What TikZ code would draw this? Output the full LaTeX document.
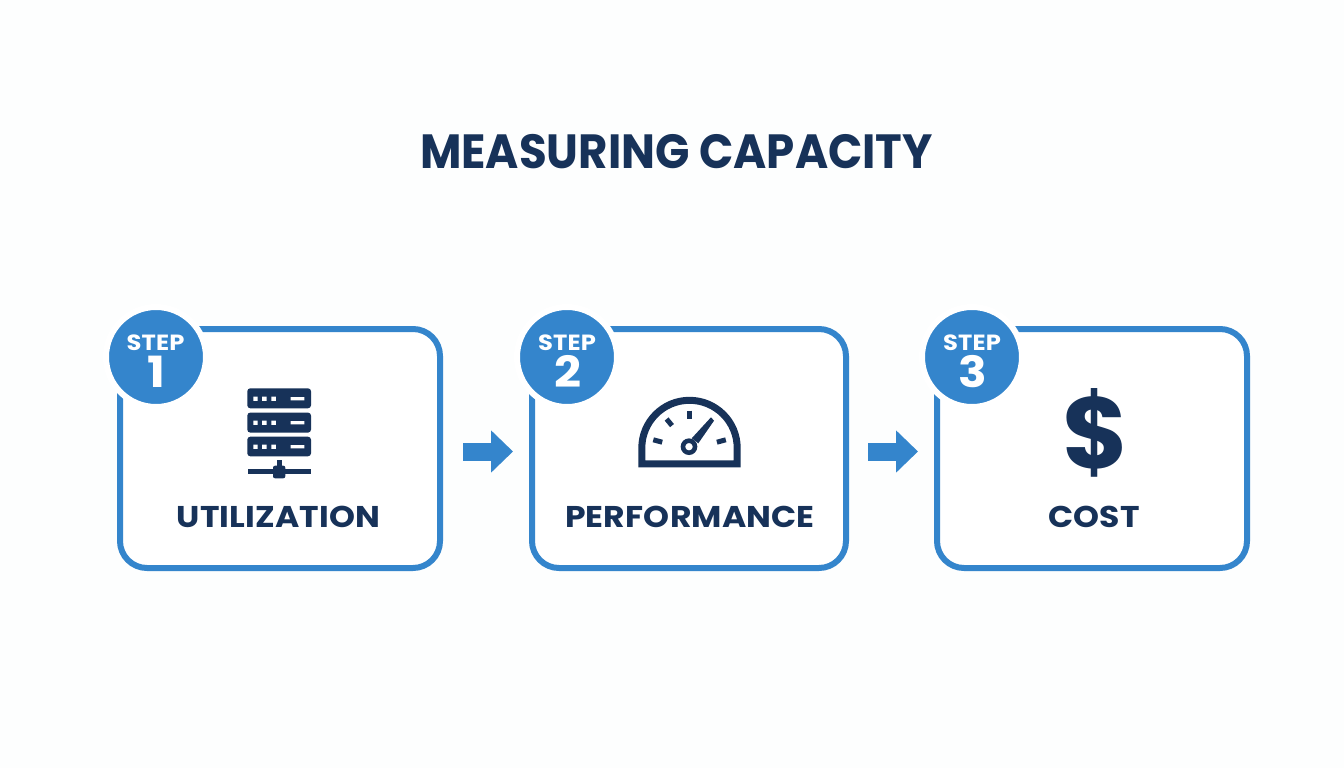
\documentclass[tikz,border=0pt]{standalone}
\usepackage{fontspec}
\setmainfont{Poppins}
\newfontfamily\titlefont[FakeStretch=0.94]{Poppins}
\newfontfamily\widefont[FakeStretch=1.1,LetterSpace=0.6]{Poppins}
\usetikzlibrary{positioning,arrows.meta}
\definecolor{capblue}{RGB}{52,133,204}
\definecolor{capnavy}{RGB}{23,50,89}

\begin{document}
\begin{tikzpicture}[%
    x=1pt, y=-1pt,              % Coordinates are pixels of the reference, y going down
    node distance=86pt,         % Gap between two boxes
    ]
% -------------------------------------------------
% A few styles
\tikzset{
  box/.style={draw=capblue, line width=6pt, rounded corners=27pt, fill=white,
    minimum height=239pt},
  badge/.style={circle, fill=capblue, draw=white, line width=6pt, inner sep=0pt,
    minimum size=100pt},
  steptag/.style={anchor=base, inner sep=0pt, text=white, font=\widefont\bfseries\fontsize{22}{22}\selectfont},
  stepnum/.style={anchor=base, inner sep=0pt, text=white, font=\widefont\bfseries\fontsize{43}{43}\selectfont},
  headline/.style={anchor=base, inner sep=0pt, text=capnavy, font=\titlefont\bfseries\fontsize{48}{48}\selectfont},
  caption/.style={anchor=base, inner sep=0pt, text=capnavy, font=\widefont\bfseries\fontsize{30}{30}\selectfont},
  flow/.style={draw=capblue, line width=18pt, -{Triangle[length=22pt,width=41pt]}},
  navy/.style={fill=capnavy},
  gaugeline/.style={draw=capnavy, line width=5pt}
}
% -------------------------------------------------
% Background and title
\fill [white!99!capblue] (0,0) rectangle (1344,768);
\useasboundingbox (0,0) rectangle (1344,768);
\node [headline] (title) at (676.5,168) {MEASURING CAPACITY};

% -------------------------------------------------
% Start by placing the boxes
\node [box, minimum width=320pt] (box1) at (280,448.5) {};
\node [box, minimum width=314pt, right = of box1] (box2) {};
\node [box, minimum width=310pt, right = 85pt of box2] (box3) {};

% The round badges sit over the corners
\node [badge] (badge1) at ([xshift=39pt,yshift=-31pt]box1.north west) {};
\node [badge] (badge2) at ([xshift=38pt,yshift=-31pt]box2.north west) {};
\node [badge] (badge3) at ([xshift=38pt,yshift=-31pt]box3.north west) {};

\node [steptag] (tag1) at (155.5,350) {STEP};
\node [stepnum] (num1) at (156,387) {1};
\node [steptag] (tag2) at (567,350) {STEP};
\node [stepnum] (num2) at (567.5,387) {2};
\node [steptag] (tag3) at (972,350) {STEP};
\node [stepnum] (num3) at (972.5,387) {3};

% Captions
\node [caption] (util) at (278.5,527.7) {UTILIZATION};
\node [caption] (perf) at (690,527.7) {PERFORMANCE};
\node [caption] (cost) at (1094,527.7) {COST};

% -------------------------------------------------
% Arrows between the boxes
\draw [flow, shorten <=20pt, shorten >=16pt] ([yshift=-3pt]box1.east) -- ([yshift=-3pt]box2.west);
\draw [flow, shorten <=19pt, shorten >=16pt] ([yshift=-3pt]box2.east) -- ([yshift=-3pt]box3.west);

% -------------------------------------------------
% Server icon
\fill [navy, rounded corners=3pt] (247.3,388.3) rectangle (311,408.3);
\fill [navy, rounded corners=3pt] (247.3,412.6) rectangle (311,432.6);
\fill [navy, rounded corners=3pt] (247.3,436.7) rectangle (311,456.3);
\fill [white] (253.3,396.5) rectangle +(4.4,4.4) (262.2,396.5) rectangle +(4.4,4.4)
  (271.4,396.5) rectangle +(4.4,4.4) (290.7,397.2) rectangle (304.3,400.3);
\fill [white] (253.3,420.5) rectangle +(4.4,4.4) (262.2,420.5) rectangle +(4.4,4.4)
  (271.4,420.5) rectangle +(4.4,4.4) (290.7,421.2) rectangle (304.3,424.3);
\fill [white] (253.3,444.5) rectangle +(4.4,4.4) (262.2,444.5) rectangle +(4.4,4.4)
  (271.4,444.5) rectangle +(4.4,4.4) (290.7,445.2) rectangle (304.3,448.3);
\fill [navy] (248,469) rectangle (311,474);
\fill [navy] (276.7,460) rectangle (282,467);
\fill [navy, rounded corners=2pt] (273,465.7) rectangle (285.3,478.3);

% Gauge icon
\draw [draw=capnavy, line width=7pt, miter limit=10] (641.8,463.8) -- (641.8,448)
  arc [start angle=180, end angle=360, radius=47.7] -- (737.2,463.8) -- cycle;
\draw [gaugeline] (689.3,410.7) -- (689.3,418.7);
\draw [gaugeline] (653.3,439.8) -- (662.2,442.2);
\draw [gaugeline] (725.8,439.8) -- (716.9,442.2);
\draw [gaugeline] (666.6,419) -- (672,425.6);
\fill [navy] (691.7,438.3) -- (711,417.3) -- (714,420.7) -- (698.3,443.3) -- cycle;
\draw [draw=capnavy, line width=4.6pt, fill=white] (689,446.7) circle (6);

% Dollar icon
\node [anchor=base, inner sep=0pt, text=capnavy, font=\bfseries\fontsize{101}{101}\selectfont] (dollar) at (1095.7,468) {\$};
% -------------------------------------------------
\end{tikzpicture}
\end{document}
